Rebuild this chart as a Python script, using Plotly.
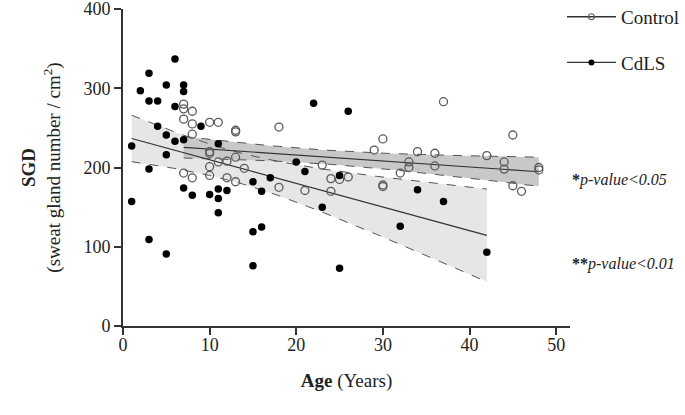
import numpy as np
import plotly.graph_objects as go

# ---- data ----
cdls_age = [1, 1, 2, 3, 3, 3, 3, 4, 4, 5, 5, 5, 5, 6, 6, 6, 7, 7, 7, 7, 8, 9, 10,
            11, 11, 11, 11, 12, 15, 15, 15, 16, 16, 17, 20, 21, 22, 23, 25, 25, 26,
            32, 34, 37, 42]
cdls_sgd = [227, 157, 297, 319, 284, 198, 109, 284, 252, 304, 241, 216, 91, 337, 277,
            233, 304, 296, 235, 174, 165, 252, 166, 230, 173, 161, 143, 171, 182, 119,
            76, 125, 170, 187, 207, 195, 281, 150, 190, 73, 271, 126, 172, 157, 93]

ctrl_age = [7, 7, 7, 7, 8, 8, 8, 8, 10, 10, 10, 10, 10, 11, 11, 12, 12, 13, 13, 13, 13,
            14, 18, 18, 21, 23, 24, 24, 25, 26, 29, 30, 30, 30, 32, 33, 33, 34, 36, 36,
            37, 42, 44, 44, 45, 45, 46, 48, 48]
ctrl_sgd = [280, 274, 261, 193, 271, 255, 242, 187, 257, 220, 218, 201, 190, 257, 207,
            208, 187, 247, 245, 213, 182, 199, 251, 175, 171, 203, 186, 170, 185, 188,
            222, 236, 178, 176, 193, 207, 200, 220, 218, 202, 283, 215, 207, 198, 241,
            177, 170, 200, 197]

x_ticks = [0, 10, 20, 30, 40, 50]
y_ticks = [0, 100, 200, 300, 400]

# two-sided 95% t critical values for n-2 degrees of freedom
T_CDLS = 2.0167   # df = 43
T_CTRL = 2.0117   # df = 47


def fit_band(x, y, t):
    x = np.asarray(x, float)
    y = np.asarray(y, float)
    n = len(x)
    b, a = np.polyfit(x, y, 1)
    res = y - (a + b * x)
    s = np.sqrt((res ** 2).sum() / (n - 2))
    xm = x.mean()
    sxx = ((x - xm) ** 2).sum()
    xs = np.linspace(x.min(), x.max(), 120)
    yh = a + b * xs
    se = s * np.sqrt(1.0 / n + (xs - xm) ** 2 / sxx)
    return xs, yh, yh - t * se, yh + t * se


FONT = "Liberation Serif"
AX = "#333333"

cx, cy, clo, chi = fit_band(cdls_age, cdls_sgd, T_CDLS)
kx, ky, klo, khi = fit_band(ctrl_age, ctrl_sgd, T_CTRL)

fig = go.Figure()

# confidence band fills
fig.add_trace(go.Scatter(x=cx, y=clo, mode="lines", line=dict(width=0),
                         showlegend=False, hoverinfo="skip"))
fig.add_trace(go.Scatter(x=cx, y=chi, mode="lines", line=dict(width=0), fill="tonexty",
                         fillcolor="#e6e6e6", showlegend=False, hoverinfo="skip"))
fig.add_trace(go.Scatter(x=kx, y=klo, mode="lines", line=dict(width=0),
                         showlegend=False, hoverinfo="skip"))
fig.add_trace(go.Scatter(x=kx, y=khi, mode="lines", line=dict(width=0), fill="tonexty",
                         fillcolor="#c8c8c8", showlegend=False, hoverinfo="skip"))

# dashed band edges
for bx, by in [(cx, clo), (cx, chi), (kx, klo), (kx, khi)]:
    fig.add_trace(go.Scatter(x=bx, y=by, mode="lines",
                             line=dict(color="#555555", width=1, dash="dash"),
                             showlegend=False, hoverinfo="skip"))

# regression lines
fig.add_trace(go.Scatter(x=cx, y=cy, mode="lines", line=dict(color="#333333", width=1.2),
                         showlegend=False, hoverinfo="skip"))
fig.add_trace(go.Scatter(x=kx, y=ky, mode="lines", line=dict(color="#333333", width=1.2),
                         showlegend=False, hoverinfo="skip"))

# points
fig.add_trace(go.Scatter(x=ctrl_age, y=ctrl_sgd, mode="markers", name="Control",
                         marker=dict(symbol="circle-open", size=8, color="#5a5a5a",
                                     line=dict(width=1.3, color="#5a5a5a")),
                         showlegend=False))
fig.add_trace(go.Scatter(x=cdls_age, y=cdls_sgd, mode="markers", name="CdLS",
                         marker=dict(symbol="circle", size=7.5, color="#000000"),
                         showlegend=False))

# legend entries
fig.add_trace(go.Scatter(x=[None], y=[None], mode="lines+markers", name="Control",
                         legendgroup="a",
                         line=dict(color="#333333", width=1.3),
                         marker=dict(symbol="circle-open", size=6, color="#555555",
                                     line=dict(width=1.2))))
fig.add_trace(go.Scatter(x=[None], y=[None], mode="lines+markers", name="CdLS",
                         legendgroup="b",
                         line=dict(color="#333333", width=1.3),
                         marker=dict(symbol="circle", size=6, color="#000000")))

fig.update_layout(
    width=685, height=415,
    margin=dict(l=123, r=115, t=9, b=89, autoexpand=False),
    paper_bgcolor="white", plot_bgcolor="white",
    font=dict(family=FONT, color="#222222", size=18),
    legend=dict(x=0.982, y=1.035, xanchor="left", yanchor="top",
                itemwidth=49,
                font=dict(family=FONT, size=19, color="#222222"),
                tracegroupgap=18, bgcolor="rgba(0,0,0,0)"),
    xaxis=dict(range=[0, 51.6], tickvals=x_ticks, ticktext=[str(v) for v in x_ticks],
               ticks="outside", ticklen=7, tickwidth=1.5, tickcolor=AX,
               ticklabelstandoff=-6, ticklabeloverflow="allow",
               showline=True, linecolor=AX, linewidth=1.8,
               showgrid=False, zeroline=False,
               tickfont=dict(family=FONT, size=18, color="#222222"),
               title=dict(text="<b>Age</b> (Years)", standoff=20,
                          font=dict(family=FONT, size=19, color="#222222"))),
    yaxis=dict(range=[0, 400], tickvals=y_ticks, ticktext=[str(v) for v in y_ticks],
               ticks="outside", ticklen=7, tickwidth=1.5, tickcolor=AX,
               ticklabeloverflow="allow",
               showline=True, linecolor=AX, linewidth=1.8,
               showgrid=False, zeroline=False,
               tickfont=dict(family=FONT, size=18, color="#222222"),
               title=dict(text="<b>SGD</b><br>(sweat gland number / cm<sup>2</sup>)",
                          standoff=18,
                          font=dict(family=FONT, size=19, color="#222222"))),
    annotations=[
        dict(text="<b>*</b><i>p-value&lt;0.05</i>", xref="paper", yref="y",
             x=1.0, y=184, xanchor="left", yanchor="middle", showarrow=False,
             font=dict(family=FONT, size=16, color="#222222")),
        dict(text="<b>**</b><i>p-value&lt;0.01</i>", xref="paper", yref="y",
             x=1.0, y=78, xanchor="left", yanchor="middle", showarrow=False,
             font=dict(family=FONT, size=16, color="#222222")),
    ],
)

fig.write_html(
    "out.html",
    config={"displayModeBar": False},
    post_script="document.body.style.margin='0';"
                "document.documentElement.style.overflow='hidden';",
)
